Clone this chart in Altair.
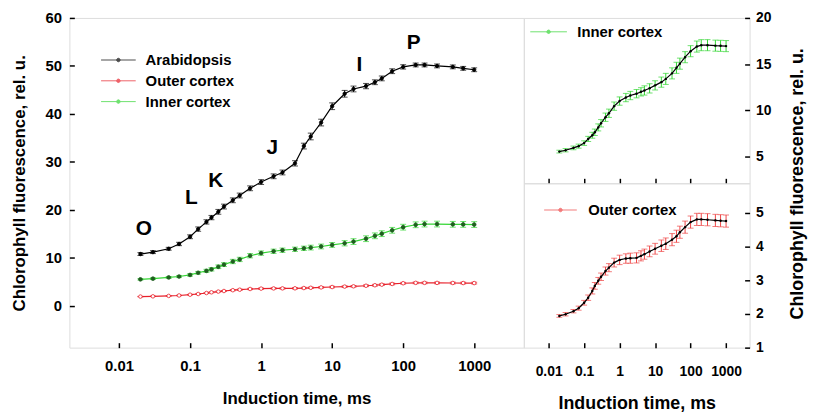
import altair as alt
import pandas as pd

# ---------------- data ----------------
time_ms = [0.02, 0.03, 0.05, 0.07, 0.1, 0.13, 0.17, 0.2, 0.25, 0.3, 0.4, 0.5, 0.7, 1, 1.5, 2, 3,
           4, 5, 7, 10, 15, 20, 30, 40, 50, 70, 100, 150, 200, 300, 500, 700, 1000]

arabidopsis = [10.8, 11.2, 11.9, 12.9, 14.4, 16.0, 17.5, 18.4, 19.6, 20.7, 22.0, 23.0, 24.5, 25.8,
               27.0, 27.8, 29.7, 33.3, 35.3, 38.2, 41.6, 44.2, 45.2, 45.8, 46.6, 47.4, 48.9, 49.8,
               50.2, 50.2, 50.0, 49.8, 49.5, 49.2]
arabidopsis_err = [0.3, 0.3, 0.3, 0.35, 0.4, 0.45, 0.45, 0.45, 0.5, 0.5, 0.5, 0.5, 0.5, 0.5,
                   0.5, 0.5, 0.55, 0.6, 0.7, 0.7, 0.7, 0.7, 0.6, 0.55, 0.5, 0.5, 0.5, 0.45,
                   0.4, 0.4, 0.4, 0.4, 0.4, 0.4]

inner = [5.53, 5.68, 5.93, 6.12, 6.45, 6.9, 7.3, 7.62, 8.15, 8.6, 9.25, 9.68, 10.45, 11.0,
         11.38, 11.6, 11.8, 12.0, 12.15, 12.38, 12.7, 13.05, 13.4, 14.0, 14.6, 15.05, 15.75,
         16.4, 16.9, 17.05, 17.05, 17.0, 16.98, 16.95]
inner_err = [0.15, 0.18, 0.2, 0.22, 0.25, 0.28, 0.32, 0.35, 0.38, 0.4, 0.45, 0.45, 0.45, 0.45,
             0.45, 0.45, 0.45, 0.45, 0.5, 0.5, 0.5, 0.55, 0.6, 0.6, 0.6, 0.6, 0.6, 0.6,
             0.6, 0.6, 0.6, 0.6, 0.6, 0.6]

outer = [1.94, 1.99, 2.08, 2.17, 2.33, 2.48, 2.68, 2.83, 2.98, 3.1, 3.27, 3.37, 3.52, 3.6,
         3.64, 3.65, 3.66, 3.72, 3.77, 3.85, 3.93, 4.02, 4.08, 4.2, 4.3, 4.42, 4.57, 4.72,
         4.8, 4.8, 4.79, 4.77, 4.76, 4.75]
outer_err = [0.04, 0.05, 0.05, 0.06, 0.07, 0.08, 0.09, 0.1, 0.1, 0.11, 0.12, 0.12, 0.13, 0.14,
             0.14, 0.15, 0.15, 0.15, 0.15, 0.16, 0.16, 0.17, 0.17, 0.18, 0.18, 0.18, 0.18, 0.18,
             0.18, 0.18, 0.18, 0.18, 0.18, 0.18]

series_names = ["Arabidopsis", "Outer cortex", "Inner cortex"]
series_colors = ["#000000", "#e8202a", "#33d633"]
point_fill = ["#000000", "#ffffff", "#1e5e1e"]
point_stroke = ["#000000", "#e8202a", "#1e5e1e"]
point_size = [12, 14, 6]

phase_labels = ["O", "L", "K", "J", "I", "P"]
phase_t = [0.0223, 0.104, 0.23, 1.44, 24.2, 141]
phase_y = [16.1, 22.5, 26.0, 32.8, 50.1, 54.8]

x_ticks = [0.01, 0.1, 1, 10, 100, 1000]
main_y_ticks = [0, 10, 20, 30, 40, 50, 60]
inner_y_ticks = [5, 10, 15, 20]
outer_y_ticks = [1, 2, 3, 4, 5]

# ---------------- tables ----------------
rows = []
for name, vals, errs in [("Arabidopsis", arabidopsis, arabidopsis_err),
                         ("Outer cortex", outer, outer_err),
                         ("Inner cortex", inner, inner_err)]:
    for t, v, e in zip(time_ms, vals, errs):
        rows.append({"series": name, "t": t, "v": v, "lo": v - e, "hi": v + e})
df = pd.DataFrame(rows)
df_phase = pd.DataFrame({"label": phase_labels, "t": phase_t, "v": phase_y})

FONT = "Liberation Sans"


def x_axis(labels=True, title=None, fs=15, tfs=17, pad=11, tpad=17):
    kw = dict(values=x_ticks, format="~g", labels=labels, offset=-5, tickSize=5, tickWidth=1.5,
              tickColor="black", domain=False, grid=False, labelFont=FONT, labelFontSize=fs,
              labelFontWeight="bold", labelColor="black", labelPadding=pad)
    if title:
        kw.update(title=title, titleFont=FONT, titleFontSize=tfs, titleFontWeight="bold",
                  titleColor="black", titlePadding=tpad)
    else:
        kw.update(title=None)
    return alt.Axis(**kw)


def sym_path(half):
    return (f"M{-half},0L{half},0"
            "M-0.35,0A0.35,0.35 0 1,1 0.35,0A0.35,0.35 0 1,1 -0.35,0Z")


xs_main = alt.Scale(type="log", domain=[0.002, 5000], nice=False)
xs_right = alt.Scale(type="log", domain=[0.002, 4600], nice=False)

# ---------------- main panel ----------------
color_main = alt.Color(
    "series:N",
    scale=alt.Scale(domain=series_names, range=series_colors),
    legend=alt.Legend(title=None, orient="none", legendX=42, legendY=35, symbolType=sym_path(3.5),
                      symbolSize=100, symbolStrokeWidth=1, symbolFillColor="white",
                      labelFont=FONT, labelFontSize=15, labelFontWeight="bold", labelColor="black",
                      labelOffset=20, rowPadding=5),
)

base_main = alt.Chart(df)
x_main = alt.X("t:Q", scale=xs_main, axis=x_axis(title="Induction time, ms"))
y_main = alt.Y("v:Q", scale=alt.Scale(domain=[-8.7, 60], nice=False, zero=False),
               axis=alt.Axis(values=main_y_ticks, offset=-5, tickSize=5, tickWidth=1.5,
                             tickColor="black", domain=False, grid=False, labelFont=FONT,
                             labelFontSize=15, labelFontWeight="bold", labelColor="black",
                             labelPadding=8, title="Chlorophyll fluorescence, rel. u.",
                             titleFont=FONT, titleFontSize=17, titleFontWeight="bold",
                             titleColor="black", titlePadding=17))

err_main = base_main.mark_rule(strokeWidth=1).encode(x=x_main, y="lo:Q", y2="hi:Q", color=color_main)
caps_main = base_main.transform_fold(["lo", "hi"], as_=["end", "cap"]).mark_tick(
    orient="horizontal", size=6, thickness=1).encode(x=x_main, y="cap:Q", color=color_main)
line_main = base_main.mark_line(strokeWidth=1.2).encode(x=x_main, y=y_main, color=color_main)
pts_main = base_main.mark_point(shape="circle", strokeWidth=0.8, opacity=1).encode(
    x=x_main, y="v:Q",
    fill=alt.Fill("series:N", scale=alt.Scale(domain=series_names, range=point_fill), legend=None),
    stroke=alt.Stroke("series:N", scale=alt.Scale(domain=series_names, range=point_stroke), legend=None),
    size=alt.Size("series:N", scale=alt.Scale(domain=series_names, range=point_size), legend=None),
)
txt_main = alt.Chart(df_phase).mark_text(font=FONT, fontSize=21, fontWeight="bold", color="black",
                                         align="center", baseline="middle").encode(
    x=alt.X("t:Q", scale=xs_main), y="v:Q", text="label:N")

main = alt.layer(err_main, caps_main, line_main, pts_main, txt_main).properties(width=459, height=333)


# ---------------- right panels ----------------
def side_panel(name, vals, errs, col, ydom, yticks, height, show_x, leg_x, leg_y, half, lab_off,
               y_title=None):
    d = pd.DataFrame({"series": [name] * len(time_ms), "t": time_ms, "v": vals,
                      "lo": [v - e for v, e in zip(vals, errs)],
                      "hi": [v + e for v, e in zip(vals, errs)]})
    b = alt.Chart(d)
    if show_x:
        xa = x_axis(title="Induction time, ms", fs=14, tfs=18, pad=17, tpad=16)
    else:
        xa = x_axis(labels=False)
    x = alt.X("t:Q", scale=xs_right, axis=xa)
    ykw = dict(values=yticks, orient="right", offset=-5, tickSize=5, tickWidth=1.5, tickColor="black",
               domain=False, grid=False, labelFont=FONT, labelFontSize=14, labelFontWeight="bold",
               labelColor="black", labelPadding=6)
    if y_title:
        ykw.update(title=y_title, titleFont=FONT, titleFontSize=18, titleFontWeight="bold",
                   titleColor="black", titleAngle=270, titleBaseline="top", titleAlign="center",
                   titleY=height, titlePadding=18)
    else:
        ykw.update(title=None)
    y = alt.Y("v:Q", scale=alt.Scale(domain=ydom, nice=False, zero=False), axis=alt.Axis(**ykw))
    c = alt.Color("series:N", scale=alt.Scale(domain=[name], range=[col]),
                  legend=alt.Legend(title=None, orient="none", legendX=leg_x, legendY=leg_y,
                                    symbolType=sym_path(half), symbolSize=100, symbolStrokeWidth=1,
                                    symbolFillColor="black", labelFont=FONT, labelFontSize=15,
                                    labelFontWeight="bold", labelColor="black", labelOffset=lab_off))
    err = b.mark_rule(strokeWidth=1).encode(x=x, y="lo:Q", y2="hi:Q", color=c)
    caps = b.transform_fold(["lo", "hi"], as_=["end", "cap"]).mark_tick(
        orient="horizontal", size=6, thickness=1).encode(x=x, y="cap:Q", color=c)
    ln = b.mark_line(strokeWidth=1.2, color="black").encode(x=x, y=y)
    pt = b.mark_circle(size=6, color="black", opacity=1).encode(x=x, y="v:Q")
    return alt.layer(err, caps, ln, pt).properties(width=228, height=height)


upper = side_panel("Inner cortex", inner, inner_err, "#33d633", [2.1, 20], inner_y_ticks, 167,
                   False, 17.5, 6.5, 3.7, 21.5, y_title="Chlorophyll fluorescence, rel. u.")
lower = side_panel("Outer cortex", outer, outer_err, "#ee4444", [1, 5.87], outer_y_ticks, 166,
                   True, 29.5, 19.5, 3.3, 20.5)

right = alt.VConcatChart(vconcat=[upper, lower], spacing=0, bounds="flush").resolve_scale(
    color="independent").resolve_legend(color="independent")

chart = alt.HConcatChart(hconcat=[main, right], spacing=0, bounds="flush").resolve_scale(
    color="independent").resolve_legend(color="independent").properties(
    padding={"left": 1, "top": 0, "right": 0, "bottom": 0}
).configure_view(stroke="black", strokeWidth=2).configure(background="white")

chart.save("out.html", embed_options={"renderer": "svg", "actions": False})
